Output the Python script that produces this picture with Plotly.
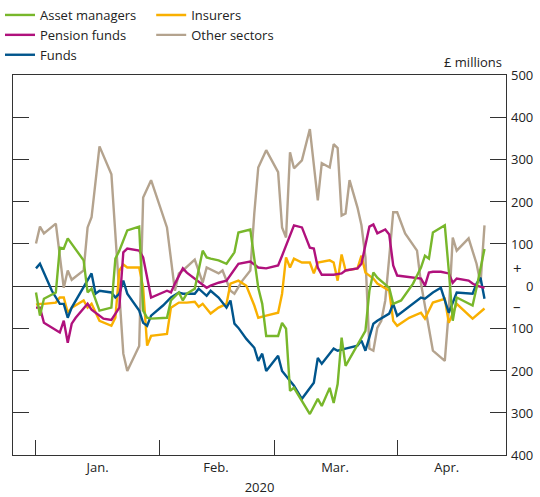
import plotly.graph_objects as go

# ---- data ----
am_dates = ["2020-01-01","2020-01-02","2020-01-03","2020-01-06","2020-01-07","2020-01-08","2020-01-09","2020-01-13","2020-01-14","2020-01-15","2020-01-17","2020-01-20","2020-01-21","2020-01-22","2020-01-24","2020-01-27","2020-01-28","2020-01-29","2020-01-30","2020-02-03","2020-02-04","2020-02-06","2020-02-07","2020-02-08","2020-02-10","2020-02-12","2020-02-13","2020-02-14","2020-02-16","2020-02-18","2020-02-20","2020-02-21","2020-02-24","2020-02-25","2020-02-26","2020-02-27","2020-02-28","2020-03-02","2020-03-03","2020-03-04","2020-03-05","2020-03-06","2020-03-08","2020-03-10","2020-03-12","2020-03-13","2020-03-15","2020-03-16","2020-03-17","2020-03-18","2020-03-19","2020-03-24","2020-03-25","2020-03-26","2020-03-27","2020-03-30","2020-03-31","2020-04-02","2020-04-05","2020-04-07","2020-04-08","2020-04-09","2020-04-10","2020-04-13","2020-04-14","2020-04-15","2020-04-16","2020-04-20","2020-04-21","2020-04-23"]
am_vals = [-15,-70,-30,-15,91,89,113,61,-15,-6,-58,-51,65,84,132,141,-58,-75,-77,-75,-34,-15,-34,-18,-6,84,68,65,61,53,80,127,134,68,-4,-42,-118,-118,-87,-101,-248,-241,-272,-303,-267,-284,-241,-277,-232,-122,-189,-106,-11,32,20,-4,-42,-34,6,44,72,65,127,144,37,-82,-27,-46,-4,88]

ins_dates = ["2020-01-01","2020-01-02","2020-01-03","2020-01-06","2020-01-07","2020-01-08","2020-01-09","2020-01-10","2020-01-13","2020-01-14","2020-01-15","2020-01-17","2020-01-20","2020-01-21","2020-01-22","2020-01-23","2020-01-24","2020-01-27","2020-01-28","2020-01-29","2020-01-30","2020-02-03","2020-02-04","2020-02-06","2020-02-08","2020-02-10","2020-02-11","2020-02-12","2020-02-14","2020-02-16","2020-02-18","2020-02-19","2020-02-21","2020-02-23","2020-02-25","2020-02-26","2020-02-28","2020-03-02","2020-03-03","2020-03-04","2020-03-05","2020-03-06","2020-03-08","2020-03-10","2020-03-11","2020-03-12","2020-03-15","2020-03-16","2020-03-17","2020-03-18","2020-03-19","2020-03-22","2020-03-23","2020-03-24","2020-03-26","2020-03-27","2020-03-30","2020-03-31","2020-04-01","2020-04-04","2020-04-07","2020-04-08","2020-04-10","2020-04-13","2020-04-14","2020-04-16","2020-04-20","2020-04-23"]
ins_vals = [-44,-42,-42,-39,-27,-27,-63,-51,-34,-51,-42,-82,-94,-75,37,51,44,44,-4,-141,-118,-113,-51,-39,-39,-37,-49,-42,-65,-51,-42,6,13,1,-46,-75,-70,-63,-18,68,44,65,56,56,30,56,61,56,13,75,37,42,72,32,18,6,-11,-82,-94,-75,-63,-77,-39,-30,-87,-42,-77,-53]

pf_dates = ["2020-01-01","2020-01-02","2020-01-03","2020-01-05","2020-01-07","2020-01-08","2020-01-09","2020-01-10","2020-01-11","2020-01-14","2020-01-15","2020-01-18","2020-01-20","2020-01-22","2020-01-23","2020-01-24","2020-01-27","2020-01-28","2020-01-30","2020-02-03","2020-02-04","2020-02-05","2020-02-07","2020-02-08","2020-02-10","2020-02-13","2020-02-14","2020-02-16","2020-02-18","2020-02-21","2020-02-24","2020-02-26","2020-02-28","2020-03-02","2020-03-03","2020-03-05","2020-03-06","2020-03-08","2020-03-10","2020-03-11","2020-03-12","2020-03-13","2020-03-16","2020-03-18","2020-03-19","2020-03-22","2020-03-23","2020-03-25","2020-03-26","2020-03-27","2020-03-29","2020-03-30","2020-03-31","2020-04-01","2020-04-07","2020-04-08","2020-04-09","2020-04-10","2020-04-12","2020-04-14","2020-04-15","2020-04-16","2020-04-19","2020-04-20","2020-04-21","2020-04-23"]
pf_vals = [-51,-51,-87,-99,-110,-82,-134,-89,-75,-42,-56,-77,-80,-51,80,89,84,68,-27,-11,-15,6,42,32,18,-4,1,8,13,53,58,44,42,49,72,120,144,139,91,89,44,27,27,30,37,42,53,141,146,125,134,122,49,25,18,1,32,34,34,30,8,18,13,6,1,-4]

os_dates = ["2020-01-01","2020-01-02","2020-01-03","2020-01-06","2020-01-08","2020-01-09","2020-01-10","2020-01-13","2020-01-14","2020-01-15","2020-01-17","2020-01-20","2020-01-23","2020-01-24","2020-01-27","2020-01-28","2020-01-30","2020-02-03","2020-02-05","2020-02-06","2020-02-07","2020-02-10","2020-02-12","2020-02-13","2020-02-16","2020-02-17","2020-02-19","2020-02-20","2020-02-22","2020-02-24","2020-02-25","2020-02-26","2020-02-28","2020-03-02","2020-03-03","2020-03-04","2020-03-05","2020-03-06","2020-03-08","2020-03-10","2020-03-12","2020-03-13","2020-03-15","2020-03-16","2020-03-17","2020-03-18","2020-03-19","2020-03-20","2020-03-22","2020-03-23","2020-03-24","2020-03-25","2020-03-26","2020-03-27","2020-03-28","2020-03-29","2020-03-30","2020-03-31","2020-04-01","2020-04-03","2020-04-06","2020-04-07","2020-04-10","2020-04-13","2020-04-14","2020-04-15","2020-04-16","2020-04-19","2020-04-21","2020-04-22","2020-04-23"]
os_vals = [101,141,125,148,-4,37,15,37,139,163,331,265,-160,-201,-142,210,251,139,-11,30,37,63,8,44,30,37,-11,-18,13,37,172,281,322,270,139,115,317,279,298,372,203,291,281,336,327,167,172,251,186,144,68,-148,-153,-99,-82,-34,68,175,175,125,84,6,-153,-177,-58,115,84,113,53,6,144]

fu_dates = ["2020-01-01","2020-01-02","2020-01-05","2020-01-07","2020-01-08","2020-01-09","2020-01-10","2020-01-13","2020-01-15","2020-01-16","2020-01-17","2020-01-20","2020-01-21","2020-01-22","2020-01-23","2020-01-24","2020-01-27","2020-01-28","2020-01-29","2020-01-30","2020-02-02","2020-02-04","2020-02-06","2020-02-07","2020-02-10","2020-02-11","2020-02-13","2020-02-14","2020-02-16","2020-02-18","2020-02-19","2020-02-20","2020-02-21","2020-02-23","2020-02-25","2020-02-26","2020-02-27","2020-02-28","2020-03-02","2020-03-03","2020-03-05","2020-03-06","2020-03-08","2020-03-11","2020-03-12","2020-03-13","2020-03-16","2020-03-17","2020-03-19","2020-03-22","2020-03-23","2020-03-24","2020-03-26","2020-03-27","2020-03-30","2020-03-31","2020-04-01","2020-04-05","2020-04-07","2020-04-08","2020-04-10","2020-04-12","2020-04-14","2020-04-16","2020-04-20","2020-04-21","2020-04-22","2020-04-23"]
fu_vals = [42,53,-11,-42,-42,-75,-51,-4,30,-18,-11,-15,-27,-18,13,-18,-58,-87,-94,-70,-46,-27,-15,-18,-18,-6,-23,-11,-27,-51,-34,-89,-99,-125,-146,-177,-160,-201,-165,-201,-224,-236,-267,-229,-170,-184,-148,-153,-148,-141,-129,-153,-89,-82,-65,-42,-70,-42,-27,-30,-15,-4,-63,-15,-18,6,20,-30]

series_names = ["Asset managers", "Insurers", "Pension funds", "Other sectors", "Funds"]
series_colors = ["#78B72B", "#F9B000", "#B0117C", "#B4A38E", "#00558C"]

x_range = ["2019-12-26 05:00", "2020-04-28 10:00"]
month_starts = ["2020-01-01", "2020-02-01", "2020-03-01", "2020-04-01"]
month_label_pos = ["2020-01-16 12:00", "2020-02-15 08:00", "2020-03-16 08:00", "2020-04-13 12:00"]
month_labels = ["Jan.", "Feb.", "Mar.", "Apr."]
y_ticks = [-400, -300, -200, -100, 0, 100, 200, 300, 400, 500]
y_labels = ["400", "300", "200", "100", "0", "100", "200", "300", "400", "500"]

FONT = "Open Sans"
TXT = "#222222"
AX = "#333333"

fig = go.Figure()
data = [
    (am_dates, am_vals, "legend"),
    (ins_dates, ins_vals, "legend2"),
    (pf_dates, pf_vals, "legend"),
    (os_dates, os_vals, "legend2"),
    (fu_dates, fu_vals, "legend"),
]
# draw order: other sectors behind
order = [3, 1, 4, 2, 0]
for i in order:
    d, v, lg = data[i]
    fig.add_trace(go.Scatter(x=d, y=v, mode="lines", name=series_names[i],
                             line=dict(color=series_colors[i], width=2.4),
                             legend=lg, legendrank=i))

fig.update_layout(
    width=540, height=497,
    margin=dict(l=13, r=34, t=75, b=42, autoexpand=False),
    paper_bgcolor="white", plot_bgcolor="white",
    font=dict(family=FONT, size=13, color=TXT),
    legend=dict(x=0.0, y=1.0, xref="container", yref="container",
                xanchor="left", yanchor="top", bgcolor="rgba(0,0,0,0)",
                font=dict(size=13, color=TXT), itemwidth=30, tracegroupgap=0),
    legend2=dict(x=0.28, y=1.0, xref="container", yref="container",
                 xanchor="left", yanchor="top", bgcolor="rgba(0,0,0,0)",
                 font=dict(size=13, color=TXT), itemwidth=30, tracegroupgap=0),
)

fig.update_xaxes(
    type="date", range=x_range,
    showgrid=False, zeroline=False,
    showline=True, linecolor=AX, linewidth=1.3, mirror=True,
    tickmode="array", tickvals=month_label_pos, ticktext=month_labels,
    ticks="", tickfont=dict(size=13, color=TXT),
    minor=dict(tickmode="array", tickvals=month_starts, ticks="inside",
               ticklen=15, tickwidth=1.3, tickcolor=AX, showgrid=False),
    title=dict(text="2020", font=dict(size=13, color=TXT), standoff=8),
)
fig.update_yaxes(
    range=[-400, 500], side="right",
    showgrid=False,
    zeroline=True, zerolinecolor=AX, zerolinewidth=1.3,
    showline=True, linecolor=AX, linewidth=1.3, mirror="ticks",
    tickmode="array", tickvals=[t for t in y_ticks if t not in (0, -400, 500)],
    ticks="inside", ticklen=16, tickwidth=1.3, tickcolor=AX,
    showticklabels=False,
)

for t, lab in zip(y_ticks, y_labels):
    fig.add_annotation(x=1.0598, xref="paper", y=t, yref="y", text=lab, showarrow=False,
                       xanchor="right", yanchor="middle", font=dict(size=13, color=TXT))
fig.add_annotation(x=1.01, xref="paper", y=44, yref="y", text="+", showarrow=False,
                   xanchor="left", yanchor="middle", font=dict(size=15, color=TXT))
fig.add_annotation(x=1.01, xref="paper", y=-46, yref="y", text="\u2013", showarrow=False,
                   xanchor="left", yanchor="middle", font=dict(size=15, color=TXT))
fig.add_annotation(x=0.995, xref="paper", y=1.0, yref="paper", text="£ millions", showarrow=False,
                   xanchor="right", yanchor="bottom", yshift=2, font=dict(size=13, color=TXT))

fig.write_html("out.html", config={"displayModeBar": False},
               post_script="document.body.style.margin='0';")
